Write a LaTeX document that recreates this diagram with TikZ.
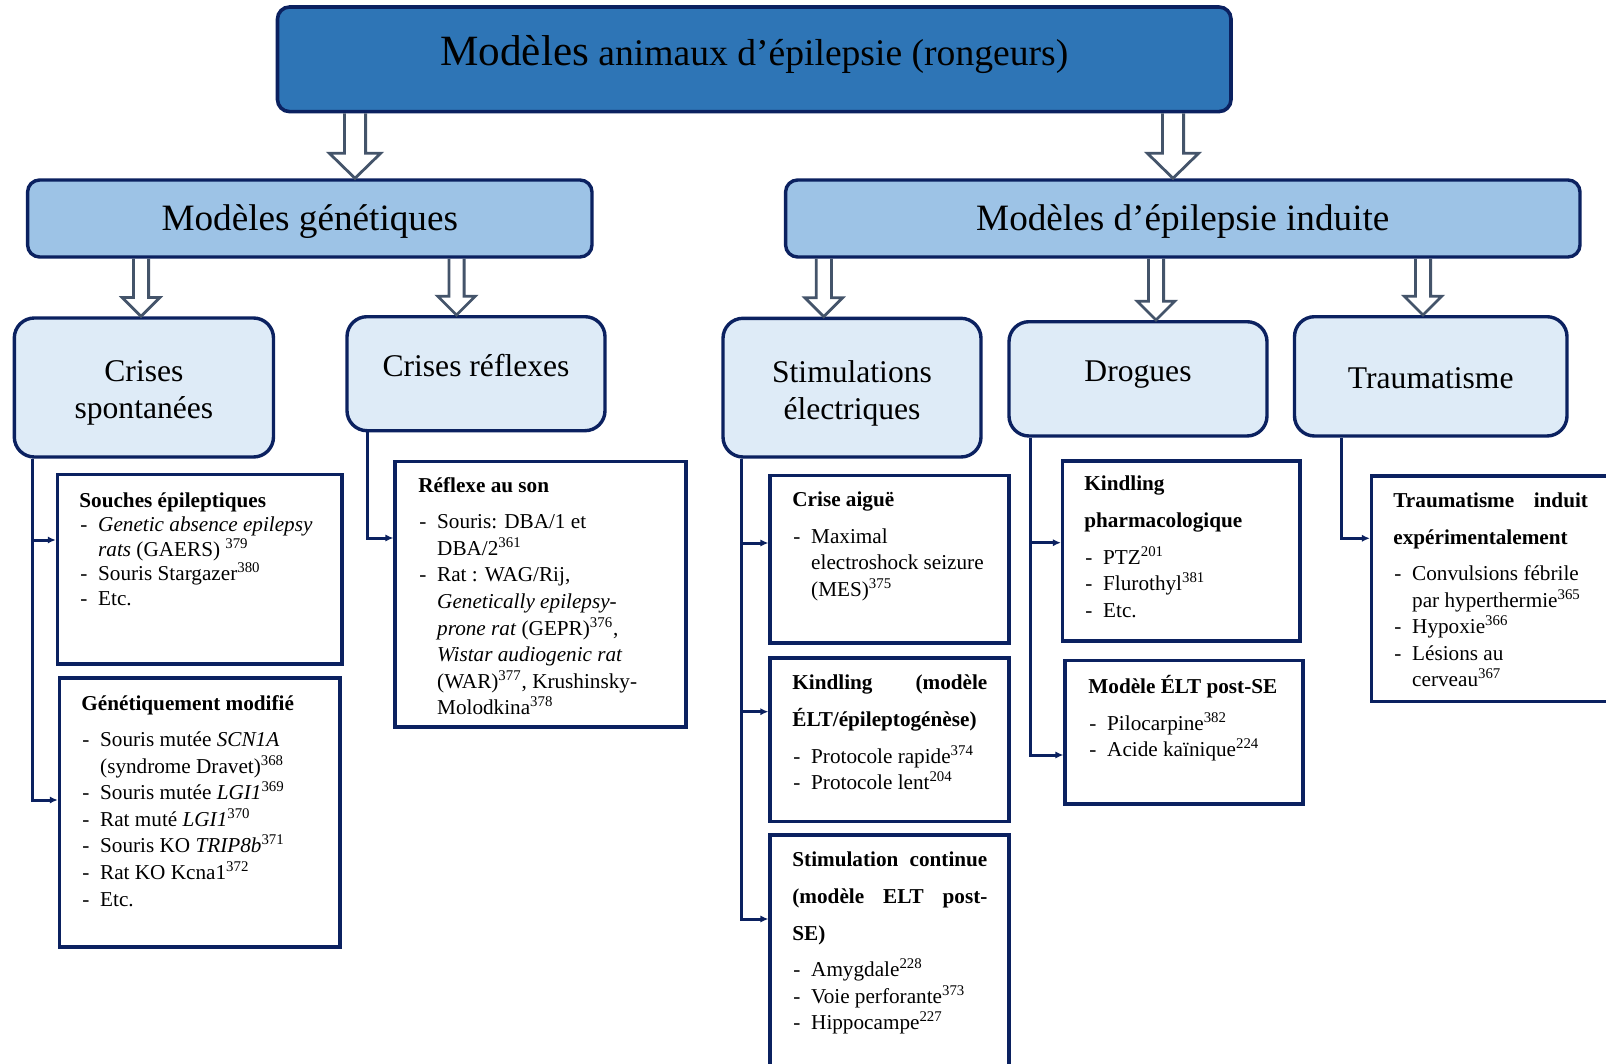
\documentclass[tikz,border=0pt]{standalone}
\usepackage{fontspec}
\setmainfont{Liberation Serif}
\usetikzlibrary{arrows.meta, calc, fit}
\definecolor{navyline}{HTML}{0B2160}
\definecolor{topblue}{HTML}{2E75B6}
\definecolor{midblue}{HTML}{9DC3E6}
\definecolor{paleblue}{HTML}{DEEBF7}
\definecolor{slate}{HTML}{44546A}
\newcommand\itm{\hspace*{0.5pt}\makebox[8.9pt][l]{-}}
\newcommand\cnt{\hspace*{9.4pt}}
\newcommand\rf[1]{\textsuperscript{#1}}
\tikzset{
  rootbox/.style={draw=navyline, line width=1.8pt, fill=topblue, rounded corners=6pt, inner sep=0pt},
  groupbox/.style={draw=navyline, line width=1.7pt, fill=midblue, rounded corners=6pt, inner sep=0pt},
  typebox/.style={draw=navyline, line width=1.7pt, fill=paleblue, rounded corners=10pt, inner sep=0pt},
  leaf/.style={draw=navyline, line width=1.6pt, fill=white, inner sep=0pt},
  boxlabel/.style={inner sep=0pt, align=center, execute at begin node=\strut, execute at end node=\strut},
  body/.style={inner sep=0pt, anchor=north west, align=left, execute at begin node=\strut},
  link/.style={draw=navyline, line width=1.5pt, -{Latex[length=4pt,width=3.6pt]}},
  hollow/.style n args={3}{draw=slate, line width=1.4pt, line join=miter,
    to path={let \p1=(\tikztostart), \p2=(\tikztotarget) in
      (\x1-#1,\y1) -- (\x1-#1,\y2+#3) -- (\x1-#2,\y2+#3) -- (\x1,\y2)
      -- (\x1+#2,\y2+#3) -- (\x1+#1,\y2+#3) -- (\x1+#1,\y1)}},
}
\begin{document}
\begin{tikzpicture}[x=0.5pt, y=-0.5pt]
  \path[fill=white, use as bounding box] (0,0) rectangle (1606,1064);
  % top level
  \node[rootbox, fit={(277.5,7) (1231,111.6)}] (root) {};
  \node[boxlabel, anchor=base, font=\fontsize{18.8}{22}\selectfont] (rootT) at (root.center |- 0,65.3)
    {{\fontsize{21.6}{22}\selectfont Modèles} animaux d’épilepsie (rongeurs)};
  % second level
  \node[groupbox, fit={(27.6,180) (592,257)}] (genet) {};
  \node[boxlabel, anchor=base, font=\fontsize{18.6}{22}\selectfont] (genetT) at (genet.center |- 0,231) {Modèles génétiques};
  \node[groupbox, fit={(785.6,180) (1580,257)}] (induit) {};
  \node[boxlabel, anchor=base, font=\fontsize{18.6}{22}\selectfont] (induitT) at (induit.center |- 0,231) {Modèles d’épilepsie induite};
  \draw[hollow={5.3pt}{12.8pt}{12.5pt}] (355,0 |- root.south) to (355,0 |- genet.north);
  \draw[hollow={5.3pt}{12.8pt}{12.5pt}] (1173,0 |- root.south) to (1173,0 |- induit.north);
  % third level
  \node[typebox, fit={(14.3,318) (273.5,457)}] (spont) {};
  \node[typebox, fit={(347,316.7) (605,430.7)}] (reflex) {};
  \node[typebox, fit={(723,318.3) (981,457)}] (stim) {};
  \node[typebox, fit={(1009,321.7) (1267,436)}] (drug) {};
  \node[typebox, fit={(1294.5,316.7) (1567,436)}] (trauma) {};
  \node[boxlabel, anchor=north, font=\fontsize{15.8}{18.3}\selectfont] (spontT) at (spont.center |- 0,360.1) {Crises\\spontanées};
  \node[boxlabel, anchor=base, font=\fontsize{15.8}{18.3}\selectfont] (reflexT) at (reflex.center |- 0,376) {Crises réflexes};
  \node[boxlabel, anchor=north, font=\fontsize{15.8}{18.3}\selectfont] (stimT) at (stim.center |- 0,360.1) {Stimulations\\électriques};
  \node[boxlabel, anchor=base, font=\fontsize{15.8}{18.3}\selectfont] (drugT) at (drug.center |- 0,381.7) {Drogues};
  \node[boxlabel, anchor=base, font=\fontsize{15.8}{18.3}\selectfont] (traumaT) at (trauma.center |- 0,388.3) {Traumatisme};
  \draw[hollow={3.8pt}{9.4pt}{9.4pt}] (141,0 |- genet.south) to (141,0 |- spont.north);
  \draw[hollow={3.8pt}{9.4pt}{9.4pt}] (456.5,0 |- genet.south) to (456.5,0 |- reflex.north);
  \draw[hollow={3.8pt}{9.4pt}{9.4pt}] (823.8,0 |- induit.south) to (823.8,0 |- stim.north);
  \draw[hollow={3.8pt}{9.4pt}{9.4pt}] (1156,0 |- induit.south) to (1156,0 |- drug.north);
  \draw[hollow={3.8pt}{9.4pt}{9.4pt}] (1423,0 |- induit.south) to (1423,0 |- trauma.north);
  % leaves
  \node[leaf, fit={(57.4,474.5) (342,664)}] (souches) {};
  \node[leaf, fit={(59.4,678) (340,947)}] (modif) {};
  \node[leaf, fit={(395,461.5) (686,727)}] (sonbox) {};
  \node[leaf, fit={(770,475.5) (1009,643)}] (aigue) {};
  \node[leaf, fit={(770,658) (1009,821.5)}] (kindl) {};
  \node[leaf, fit={(770,835) (1009,1100)}] (contin) {};
  \node[leaf, fit={(1062.5,461) (1300,641)}] (pharma) {};
  \node[leaf, fit={(1065,660.5) (1303,804)}] (postse) {};
  \node[leaf, fit={(1371.5,476) (1650,701.5)}] (experim) {};
  % texts of the leaves
  \node[body, font=\fontsize{10.6}{12.3}\selectfont] (souchesT) at (79,492) {\textbf{Souches épileptiques}\\
    \itm\textit{Genetic absence epilepsy}\\
    \cnt\textit{rats} (GAERS) \rf{379}\\
    \itm Souris Stargazer\rf{380}\\
    \itm Etc.};
  \node[body, font=\fontsize{10.6}{13.3}\selectfont] (modifT) at (81,694.8) {\textbf{Génétiquement modifié}\\[4.9pt]
    \itm Souris mutée \textit{SCN1A}\\
    \cnt(syndrome Dravet)\rf{368}\\
    \itm Souris mutée \textit{LGI1}\rf{369}\\
    \itm Rat muté \textit{LGI1}\rf{370}\\
    \itm Souris KO \textit{TRIP8b}\rf{371}\\
    \itm Rat KO Kcna1\rf{372}\\
    \itm Etc.};
  \node[body, font=\fontsize{10.6}{13.3}\selectfont] (sonT) at (418,477) {\textbf{Réflexe au son}\\[4.9pt]
    \itm Souris: DBA/1 et\\
    \cnt DBA/2\rf{361}\\
    \itm Rat : WAG/Rij,\\
    \cnt\textit{Genetically epilepsy-}\\
    \cnt\textit{prone rat} (GEPR)\rf{376},\\
    \cnt\textit{Wistar audiogenic rat}\\
    \cnt(WAR)\rf{377}, Krushinsky-\\
    \cnt Molodkina\rf{378}};
  \node[body, font=\fontsize{10.6}{13.3}\selectfont] (aigueT) at (792,491.5) {\textbf{Crise aiguë}\\[4.9pt]
    \itm Maximal\\
    \cnt electroshock seizure\\
    \cnt(MES)\rf{375}};
  \node[body, font=\fontsize{10.6}{13.3}\selectfont] (kindlT) at (792,674) {\textbf{\makebox[97.5pt][s]{Kindling\hfill(modèle}}\\[5.2pt]
    \textbf{ÉLT/épileptogénèse)}\\[5.2pt]
    \itm Protocole rapide\rf{374}\\
    \itm Protocole lent\rf{204}};
  \node[body, font=\fontsize{10.6}{13.3}\selectfont] (continT) at (792,851) {\textbf{\makebox[97.5pt][s]{Stimulation\hfill continue}}\\[5.2pt]
    \textbf{\makebox[97.5pt][s]{(modèle\hfill ELT\hfill post-}}\\[5.2pt]
    \textbf{SE)}\\[4.9pt]
    \itm Amygdale\rf{228}\\
    \itm Voie perforante\rf{373}\\
    \itm Hippocampe\rf{227}};
  \node[body, font=\fontsize{10.6}{13.3}\selectfont] (pharmaT) at (1084,475.5) {\textbf{Kindling}\\[5.2pt]
    \textbf{pharmacologique}\\[4.9pt]
    \itm PTZ\rf{201}\\
    \itm Flurothyl\rf{381}\\
    \itm Etc.};
  \node[body, font=\fontsize{10.6}{13.3}\selectfont] (postseT) at (1088,675.3) {\textbf{Modèle ÉLT post-SE}\\[4.9pt]
    \itm Pilocarpine\rf{382}\\
    \itm Acide kaïnique\rf{224}};
  \node[body, font=\fontsize{10.6}{13.3}\selectfont] (experimT) at (1393,492) {\textbf{\makebox[97.3pt][s]{Traumatisme\hfill induit}}\\[5.2pt]
    \textbf{expérimentalement}\\[4.9pt]
    \itm Convulsions fébrile\\
    \cnt par hyperthermie\rf{365}\\
    \itm Hypoxie\rf{366}\\
    \itm Lésions au\\
    \cnt cerveau\rf{367}};
  % connectors
  \draw[link] (32,0 |- spont.south) |- (souches.west |- 0,540);
  \draw[link] (32,0 |- spont.south) |- (modif.west |- 0,800);
  \draw[link] (367,0 |- reflex.south) |- (sonbox.west |- 0,538);
  \draw[link] (741.7,0 |- stim.south) |- (aigue.west |- 0,543);
  \draw[link] (741.7,0 |- stim.south) |- (kindl.west |- 0,711.7);
  \draw[link] (741.7,0 |- stim.south) |- (contin.west |- 0,919);
  \draw[link] (1030,0 |- drug.south) |- (pharma.west |- 0,542.7);
  \draw[link] (1030,0 |- drug.south) |- (postse.west |- 0,755);
  \draw[link] (1341.7,0 |- trauma.south) |- (experim.west |- 0,538.3);
\end{tikzpicture}
\end{document}
